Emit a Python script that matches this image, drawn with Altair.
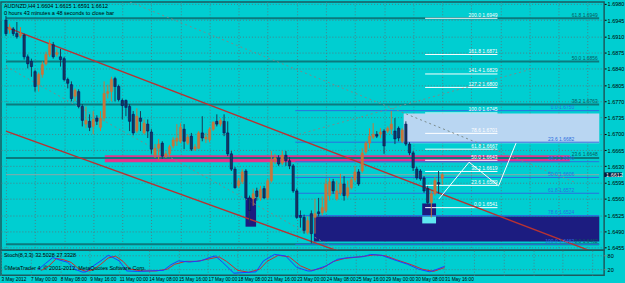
import altair as alt
import pandas as pd

FONT = "Liberation Sans"
BG = "#00CED1"
GRID = "#4d8088"

symbol_title = "AUDNZD,H4  1.6604 1.6615 1.6591 1.6612"
timer_text = "0 hours 43 minutes a 48 seconds to close bar"
stoch_title = "Stoch(8,3,3) 32.5028 27.3328"
copyright_text = "\u00a9MetaTrader 4, \u00a9 2001-2012, MetaQuotes Software Corp."

date_labels = ["3 May 2012", "7 May 00:00", "8 May 08:00", "9 May 16:00", "11 May 00:00",
               "14 May 08:00", "15 May 16:00", "17 May 00:00", "18 May 08:00", "21 May 16:00",
               "23 May 00:00", "24 May 08:00", "25 May 16:00", "29 May 00:00", "30 May 08:00",
               "31 May 16:00"]
price_ticks = [1.6455, 1.6490, 1.6525, 1.6560, 1.6595, 1.6630, 1.6665, 1.6700, 1.6735,
               1.6770, 1.6805, 1.6840, 1.6875, 1.6910, 1.6945, 1.6980]

bar_open = [1.6945, 1.6924, 1.6926, 1.6916, 1.6911, 1.6913, 1.6866, 1.6856, 1.6834, 1.6806,
            1.6828, 1.6851, 1.6871, 1.6892, 1.6871, 1.6866, 1.6862, 1.6817, 1.6806, 1.6781,
            1.6791, 1.6759, 1.6721, 1.6727, 1.6716, 1.6734, 1.6714, 1.6734, 1.6787, 1.6791,
            1.6819, 1.6802, 1.6772, 1.6772, 1.6759, 1.6742, 1.6706, 1.6734, 1.6702, 1.6721,
            1.6704, 1.6654, 1.6669, 1.6680, 1.6652, 1.6657, 1.6674, 1.6684, 1.6684, 1.6710,
            1.6680, 1.6695, 1.6667, 1.6669, 1.6702, 1.6689, 1.6687, 1.6710, 1.6727, 1.6721,
            1.6727, 1.6702, 1.6657, 1.6624, 1.6588, 1.6597, 1.6620, 1.6562, 1.6560, 1.6577,
            1.6562, 1.6582, 1.6562, 1.6599, 1.6642, 1.6648, 1.6637, 1.6654, 1.6642, 1.6631,
            1.6577, 1.6524, 1.6520, 1.6488, 1.6528, 1.6520, 1.6532, 1.6530, 1.6535, 1.6567,
            1.6597, 1.6560, 1.6573, 1.6592, 1.6567, 1.6584, 1.6601, 1.6618, 1.6620, 1.6661,
            1.6680, 1.6693, 1.6699, 1.6699, 1.6706, 1.6706, 1.6710, 1.6706, 1.6712, 1.6684,
            1.6721, 1.6678, 1.6659, 1.6624, 1.6620, 1.6605, 1.6582, 1.6552, 1.6571, 1.6595,
            1.6604]
bar_high = [1.6954, 1.6937, 1.6930, 1.6941, 1.6930, 1.6916, 1.6871, 1.6862, 1.6838, 1.6832,
            1.6856, 1.6877, 1.6903, 1.6898, 1.6883, 1.6883, 1.6866, 1.6821, 1.6813, 1.6798,
            1.6796, 1.6764, 1.6759, 1.6742, 1.6749, 1.6740, 1.6749, 1.6813, 1.6806, 1.6823,
            1.6823, 1.6806, 1.6776, 1.6774, 1.6764, 1.6749, 1.6755, 1.6749, 1.6731, 1.6731,
            1.6710, 1.6678, 1.6689, 1.6684, 1.6663, 1.6676, 1.6693, 1.6721, 1.6723, 1.6721,
            1.6699, 1.6702, 1.6678, 1.6706, 1.6738, 1.6702, 1.6714, 1.6727, 1.6742, 1.6734,
            1.6742, 1.6727, 1.6663, 1.6629, 1.6605, 1.6624, 1.6624, 1.6567, 1.6582, 1.6584,
            1.6588, 1.6588, 1.6603, 1.6663, 1.6657, 1.6654, 1.6663, 1.6663, 1.6650, 1.6635,
            1.6582, 1.6535, 1.6526, 1.6522, 1.6535, 1.6560, 1.6562, 1.6565, 1.6603, 1.6605,
            1.6603, 1.6599, 1.6614, 1.6609, 1.6599, 1.6607, 1.6631, 1.6624, 1.6669, 1.6684,
            1.6712, 1.6723, 1.6706, 1.6712, 1.6710, 1.6716, 1.6749, 1.6734, 1.6716, 1.6712,
            1.6727, 1.6682, 1.6663, 1.6629, 1.6624, 1.6609, 1.6588, 1.6577, 1.6607, 1.6620,
            1.6615]
bar_low = [1.6911, 1.6916, 1.6911, 1.6905, 1.6907, 1.6860, 1.6841, 1.6823, 1.6791, 1.6791,
           1.6821, 1.6847, 1.6866, 1.6862, 1.6866, 1.6845, 1.6813, 1.6798, 1.6770, 1.6770,
           1.6755, 1.6716, 1.6712, 1.6706, 1.6699, 1.6719, 1.6706, 1.6727, 1.6776, 1.6770,
           1.6770, 1.6770, 1.6731, 1.6738, 1.6706, 1.6697, 1.6702, 1.6706, 1.6699, 1.6691,
           1.6657, 1.6648, 1.6642, 1.6646, 1.6648, 1.6650, 1.6669, 1.6674, 1.6680, 1.6667,
           1.6676, 1.6663, 1.6663, 1.6667, 1.6684, 1.6680, 1.6682, 1.6706, 1.6716, 1.6716,
           1.6695, 1.6652, 1.6620, 1.6582, 1.6584, 1.6592, 1.6558, 1.6509, 1.6545, 1.6556,
           1.6556, 1.6560, 1.6558, 1.6595, 1.6635, 1.6631, 1.6633, 1.6631, 1.6624, 1.6573,
           1.6517, 1.6498, 1.6485, 1.6483, 1.6464, 1.6485, 1.6522, 1.6524, 1.6530, 1.6556,
           1.6571, 1.6556, 1.6567, 1.6556, 1.6562, 1.6580, 1.6597, 1.6588, 1.6616, 1.6657,
           1.6669, 1.6689, 1.6691, 1.6691, 1.6657, 1.6702, 1.6699, 1.6678, 1.6684, 1.6680,
           1.6674, 1.6654, 1.6620, 1.6601, 1.6599, 1.6573, 1.6545, 1.6520, 1.6567, 1.6571,
           1.6591]
bar_close = [1.6916, 1.6930, 1.6916, 1.6909, 1.6916, 1.6866, 1.6851, 1.6845, 1.6802, 1.6828,
             1.6849, 1.6871, 1.6894, 1.6866, 1.6875, 1.6860, 1.6817, 1.6809, 1.6776, 1.6794,
             1.6759, 1.6729, 1.6729, 1.6714, 1.6731, 1.6727, 1.6734, 1.6787, 1.6791, 1.6817,
             1.6802, 1.6774, 1.6761, 1.6757, 1.6727, 1.6702, 1.6738, 1.6727, 1.6723, 1.6706,
             1.6667, 1.6669, 1.6678, 1.6652, 1.6657, 1.6672, 1.6687, 1.6691, 1.6714, 1.6684,
             1.6693, 1.6667, 1.6672, 1.6702, 1.6691, 1.6693, 1.6710, 1.6725, 1.6721, 1.6729,
             1.6702, 1.6657, 1.6624, 1.6584, 1.6599, 1.6618, 1.6562, 1.6535, 1.6571, 1.6565,
             1.6580, 1.6562, 1.6599, 1.6642, 1.6648, 1.6635, 1.6654, 1.6642, 1.6631, 1.6577,
             1.6520, 1.6520, 1.6492, 1.6513, 1.6485, 1.6528, 1.6528, 1.6541, 1.6592, 1.6597,
             1.6577, 1.6577, 1.6592, 1.6567, 1.6584, 1.6601, 1.6618, 1.6592, 1.6659, 1.6680,
             1.6695, 1.6699, 1.6695, 1.6704, 1.6674, 1.6712, 1.6721, 1.6689, 1.6691, 1.6708,
             1.6678, 1.6659, 1.6627, 1.6605, 1.6603, 1.6577, 1.6552, 1.6571, 1.6599, 1.6592,
             1.6612]

stoch_main_bar = [10, 12, 14, 16, 18, 20, 22, 23, 25, 27, 29, 30, 32, 34, 37, 40, 44, 46, 48, 51,
                  54, 57, 58, 60, 63, 66, 69, 71, 74, 77, 80, 83, 84, 88, 91, 94, 98, 100, 103,
                  106, 110, 113, 116, 118, 120]
stoch_main_val = [17, 45, 72, 60, 51, 20, 7, 8, 35, 57, 82, 75, 57, 12, 10, 12, 15, 40, 57, 52,
                  57, 75, 79, 50, 2, 5, 8, 57, 86, 79, 28, 12, 12, 35, 64, 72, 76, 86, 82,
                  64, 42, 20, 8, 20, 32.5]
stoch_sig_bar = [11, 13, 15, 17, 19, 21, 23, 25, 27, 29, 31, 33, 35, 38, 42, 45, 47, 50, 53, 56,
                 59, 61, 64, 67, 70, 72, 75, 78, 81, 84, 87, 90, 93, 97, 101, 104, 107, 111,
                 114, 117, 120]
stoch_sig_val = [15, 35, 68, 62, 50, 22, 10, 18, 42, 70, 78, 55, 20, 12, 12, 20, 42, 55, 55, 65,
                 75, 55, 15, 6, 20, 55, 82, 75, 35, 14, 25, 55, 68, 75, 84, 80, 62, 40,
                 20, 10, 27.3]

teal_levels = [1.6949, 1.6856, 1.6763, 1.6648, 1.6462]
teal_texts = ["61.8 1.6949", "50.0 1.6856", "38.2 1.6763", "23.6 1.6648", "0.0 1.6462"]
blue_levels = [1.6750, 1.6682, 1.6640, 1.6606, 1.6572, 1.6524, 1.6462]
blue_texts = ["0.0 1.6750", "23.6 1.6682", "38.2 1.6640", "50.0 1.6606", "61.8 1.6572",
              "78.6 1.6524", "100.0 1.6462"]
white_levels = [1.6949, 1.6871, 1.6829, 1.6800, 1.6745, 1.6701, 1.6667, 1.6643, 1.6619,
                1.6589, 1.6541]
white_texts = ["200.0  1.6949", "161.8  1.6871", "141.4  1.6829", "127.2  1.6800",
               "100.0  1.6745", "78.6  1.6701", "61.8  1.6667", "50.0  1.6643",
               "38.2  1.6619", "23.6  1.6589", "0.0  1.6541"]
bid_price = 1.6612

seg_names = ["red_up", "red_lo", "dot1", "dot2", "dot3"]
seg_b1 = [0, 0, 0, 34.1, 80.6]
seg_p1 = [1.6930, 1.6706, 1.6845, 1.6984, 1.6699]
seg_b2 = [166, 96.8, 91.4, 156.7, 145.2]
seg_p2 = [1.6432, 1.6432, 1.6449, 1.6595, 1.6841]

zig_bar = [119.1, 127.4, 135.5, 140.3]
zig_price = [1.6560, 1.6639, 1.6588, 1.6680]

rect_b1 = [109.4, 27.2, 84.7, 65.9, 114.5, 114.5]
rect_b2 = [163.2, 155.1, 163.2, 68.8, 118.3, 118.3]
rect_p1 = [1.6744, 1.6654, 1.6522, 1.6562, 1.6550, 1.6522]
rect_p2 = [1.6680, 1.6639, 1.6468, 1.6500, 1.6522, 1.6507]
rect_col = ["#b9d6f2", "#e2338e", "#1c1c80", "#1c1c80", "#1c1c80", "#5fe8f0"]

XMAX = 163.17
XS = alt.Scale(domain=[0, XMAX], nice=False, zero=False)
YS = alt.Scale(domain=[1.64491, 1.69843], nice=False, zero=False)
x_axis_top = alt.Axis(values=list(range(0, 161, 8)), grid=True, gridColor=GRID, gridDash=[1, 2],
                      labels=False, ticks=False, domain=False, title=None)
y_axis_main = alt.Axis(orient="right", values=price_ticks, format=".4f", grid=True,
                       gridColor=GRID, gridDash=[1, 2], labelFontSize=5.5, labelFont=FONT,
                       labelColor="#000000", tickSize=2, tickColor="#000000", labelPadding=1,
                       domain=False, title=None)


def X(f):
    return alt.X(f, type="quantitative", scale=XS, axis=x_axis_top)


def Y(f):
    return alt.Y(f, type="quantitative", scale=YS, axis=y_axis_main)


candles = pd.DataFrame({"bar": list(range(len(bar_open))), "open": bar_open, "high": bar_high,
                        "low": bar_low, "close": bar_close})
candles["dir"] = ["up" if c >= o else "down" for o, c in zip(bar_open, bar_close)]

rects = pd.DataFrame({"b1": rect_b1, "b2": rect_b2, "p1": rect_p1, "p2": rect_p2, "col": rect_col})
rect_layer = alt.Chart(rects).mark_rect().encode(
    x=X("b1"), x2="b2", y=Y("p1"), y2="p2", color=alt.Color("col:N", scale=None))

teal_df = pd.DataFrame({"p": teal_levels, "t": teal_texts, "b1": 0.0, "b2": XMAX, "bl": 162.8})
blue_df = pd.DataFrame({"p": blue_levels, "t": blue_texts, "b1": 79.6, "b2": XMAX, "bl": 156.3})
white_df = pd.DataFrame({"p": white_levels, "t": white_texts, "b1": 115.3, "b2": 135.2, "bl": 135.2})

teal_lines = alt.Chart(teal_df).mark_rule(color="#0b7a7e", strokeWidth=2).encode(
    x=X("b1"), x2="b2", y=Y("p"))
blue_lines = alt.Chart(blue_df).mark_rule(color="#2a6fe0", strokeWidth=1).encode(
    x=X("b1"), x2="b2", y=Y("p"))
white_lines = alt.Chart(white_df).mark_rule(color="#ffffff", strokeWidth=1).encode(
    x=X("b1"), x2="b2", y=Y("p"))
bid_df = pd.DataFrame({"p": [bid_price], "b1": [0.0], "b2": [XMAX]})
bid_line = alt.Chart(bid_df).mark_rule(color="#8aa6a8", strokeWidth=1).encode(
    x=X("b1"), x2="b2", y=Y("p"))


def level_text(df, color):
    return alt.Chart(df).mark_text(align="right", baseline="bottom", font=FONT, fontSize=5,
                                   color=color, dy=-0.5).encode(x=X("bl"), y=Y("p"), text="t:N")


segs = pd.DataFrame({"name": seg_names, "b1": seg_b1, "p1": seg_p1, "b2": seg_b2, "p2": seg_p2})
red_lines = alt.Chart(segs[segs.name.str.startswith("red")]).mark_rule(
    color="#b83232", strokeWidth=1.4, clip=True).encode(x=X("b1"), x2="b2", y=Y("p1"), y2="p2")
dot_lines = alt.Chart(segs[segs.name.str.startswith("dot")]).mark_rule(
    color="#7a8a8a", strokeWidth=1, strokeDash=[2, 3], clip=True).encode(
    x=X("b1"), x2="b2", y=Y("p1"), y2="p2")

zig = pd.DataFrame({"bar": zig_bar, "p": zig_price})
zig_line = alt.Chart(zig).mark_line(color="#ffffff", strokeWidth=1).encode(x=X("bar"), y=Y("p"))

wicks = alt.Chart(candles).mark_rule(strokeWidth=1).encode(
    x=X("bar"), y=Y("high"), y2="low",
    color=alt.Color("dir:N", scale=alt.Scale(domain=["up", "down"], range=["#c8763a", "#173a55"]),
                    legend=None))
bodies = alt.Chart(candles).mark_bar(size=2.4, strokeWidth=0.5).encode(
    x=X("bar"), y=Y("open"), y2="close",
    color=alt.Color("dir:N", scale=alt.Scale(domain=["up", "down"], range=["#ffe6cc", "#00006e"]),
                    legend=None),
    stroke=alt.Stroke("dir:N", scale=alt.Scale(domain=["up", "down"], range=["#c8763a", "#00006e"]),
                      legend=None))

price_box_df = pd.DataFrame({"hi": [1.6617], "lo": [1.6607], "p": [bid_price], "t": ["1.6612"]})
price_box = alt.Chart(price_box_df).mark_rect(color="#061a3a").encode(
    x=alt.value(607), x2=alt.value(625), y=Y("hi"), y2="lo")
price_box_txt = alt.Chart(price_box_df).mark_text(align="left", baseline="middle", font=FONT,
                                                  fontSize=5.5, color="#ffffff").encode(
    x=alt.value(609), y=Y("p"), text="t:N")

header_df = pd.DataFrame({"t": [symbol_title]})
timer_df = pd.DataFrame({"t": [timer_text]})
header = alt.Chart(header_df).mark_text(align="left", baseline="top", font=FONT, fontSize=5.5,
                                        color="#000000").encode(
    x=alt.value(3), y=alt.value(2), text="t:N")
timer = alt.Chart(timer_df).mark_text(align="left", baseline="top", font=FONT, fontSize=5.5,
                                      color="#000000").encode(
    x=alt.value(3), y=alt.value(9), text="t:N")

main = alt.layer(
    rect_layer, teal_lines, blue_lines, bid_line, white_lines, dot_lines, red_lines,
    wicks, bodies, zig_line,
    level_text(teal_df, "#0a5c60"), level_text(blue_df, "#2a6fe0"), level_text(white_df, "#ffffff"),
    price_box, price_box_txt, header, timer
).properties(width=607, height=250)

SY = alt.Scale(domain=[-6.7, 104.4], nice=False, zero=False)
x_axis_bot = alt.Axis(values=list(range(0, 161, 8)), grid=True, gridColor=GRID, gridDash=[1, 2],
                      labelExpr="datum.value <= 120 ? " + str(date_labels) + "[round(datum.value/8)] : ''",
                      labelFont=FONT, labelFontSize=4.8, labelColor="#000000", labelAlign="left",
                      labelPadding=1, ticks=False, domain=False, title=None, labelOverlap=False,
                      labelBound=False, labelFlush=False)
y_axis_st = alt.Axis(orient="right", values=[20, 80], grid=True, gridColor=GRID, gridDash=[1, 2],
                     labelFont=FONT, labelFontSize=5.5, labelColor="#000000", tickSize=2,
                     labelPadding=1, domain=False, title=None)

st_main = pd.DataFrame({"bar": stoch_main_bar, "v": stoch_main_val})
st_sig = pd.DataFrame({"bar": stoch_sig_bar, "v": stoch_sig_val})


def SX(f):
    return alt.X(f, type="quantitative", scale=XS, axis=x_axis_bot)


def SYe(f):
    return alt.Y(f, type="quantitative", scale=SY, axis=y_axis_st)


sig_line = alt.Chart(st_sig).mark_line(color="#d02a2a", strokeWidth=1).encode(x=SX("bar"), y=SYe("v"))
main_line = alt.Chart(st_main).mark_line(color="#1f3cff", strokeWidth=1).encode(x=SX("bar"), y=SYe("v"))
st_title = alt.Chart(pd.DataFrame({"t": [stoch_title]})).mark_text(
    align="left", baseline="top", font=FONT, fontSize=5.5, color="#000000").encode(
    x=alt.value(3), y=alt.value(3), text="t:N")
st_copy = alt.Chart(pd.DataFrame({"t": [copyright_text]})).mark_text(
    align="left", baseline="top", font=FONT, fontSize=5.5, color="#000000").encode(
    x=alt.value(3), y=alt.value(16), text="t:N")

stoch = alt.layer(sig_line, main_line, st_title, st_copy).properties(width=607, height=25)

chart = alt.vconcat(main, stoch, spacing=0, bounds="flush").properties(
    background=BG, padding=0
).configure_view(stroke="#1b5a5e", strokeWidth=1.5)

chart.save("out.html", embed_options={"renderer": "svg", "actions": False})
